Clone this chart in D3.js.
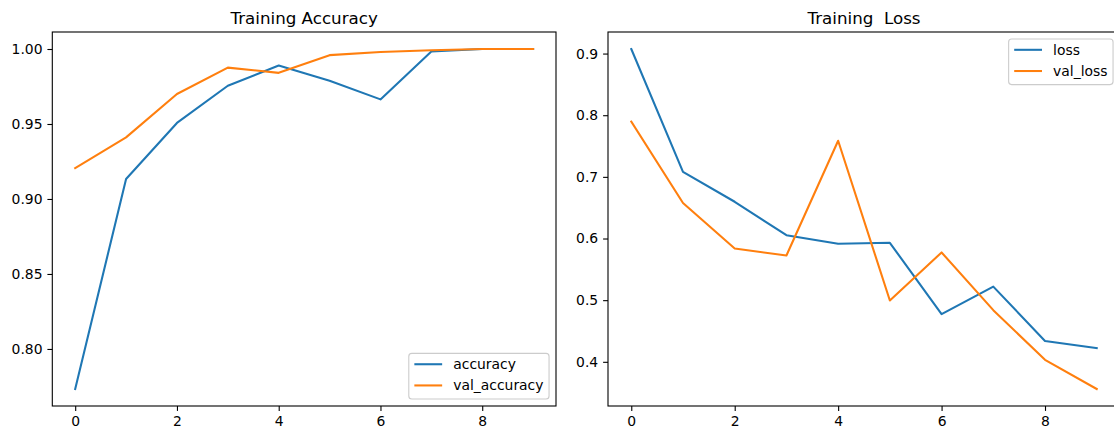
<!DOCTYPE html>
<html>
<head>
<meta charset="utf-8">
<script src="https://cdn.jsdelivr.net/npm/d3@7"></script>
<style>
  html, body { margin: 0; padding: 0; background: #fff; }
  text { font-family: "DejaVu Sans", sans-serif; fill: #000; }
</style>
</head>
<body>
<svg id="chart" width="1114" height="431"></svg>
<script>
// ---- data ----
const epochs = [0, 1, 2, 3, 4, 5, 6, 7, 8, 9];
const accuracy     = [0.7733, 0.9133, 0.9507, 0.9755, 0.9890, 0.9788, 0.9664, 0.9983, 1.0000, 1.0000];
const valAccuracy  = [0.9206, 0.9411, 0.9700, 0.9876, 0.9841, 0.9959, 0.9980, 0.9992, 1.0000, 1.0000];
const loss         = [0.9074, 0.7081, 0.6596, 0.6053, 0.5914, 0.5930, 0.4774, 0.5220, 0.4339, 0.4221];
const valLoss      = [0.7897, 0.6575, 0.5838, 0.5725, 0.7585, 0.4995, 0.5774, 0.4838, 0.4032, 0.3559];
const xTicks = [0, 2, 4, 6, 8];
const accTicks  = [0.80, 0.85, 0.90, 0.95, 1.00];
const lossTicks = [0.4, 0.5, 0.6, 0.7, 0.8, 0.9];
const titles = ["Training Accuracy", "Training  Loss"];
const accLabels = ["accuracy", "val_accuracy"];
const lossLabels = ["loss", "val_loss"];

const C1 = "#1f77b4", C2 = "#ff7f0e";
const svg = d3.select("#chart");
const FS = 13.9, TICK = 4.9;

function panel(opt) {
  const {x0, x1, y0, y1, series, labels, yTicks, yFmt, title, legendPos} = opt;
  const g = svg.append("g");
  const xs = d3.scaleLinear().domain([-0.45, 9.45]).range([x0, x1]);
  const all = series.flat();
  const mn = d3.min(all), mx = d3.max(all), m = (mx - mn) * 0.05;
  const ys = d3.scaleLinear().domain([mn - m, mx + m]).range([y1, y0]);

  // lines
  const line = d3.line().x((d, i) => xs(epochs[i])).y(d => ys(d));
  series.forEach((s, k) => {
    g.append("path").datum(s).attr("d", line)
      .attr("fill", "none").attr("stroke", k === 0 ? C1 : C2)
      .attr("stroke-width", 2.08).attr("stroke-linejoin", "round").attr("stroke-linecap", "square");
  });

  // spines
  g.append("rect").attr("x", x0).attr("y", y0).attr("width", x1 - x0).attr("height", y1 - y0)
    .attr("fill", "none").attr("stroke", "#000").attr("stroke-width", 1.1);

  // x axis
  const xa = g.append("g").attr("transform", `translate(0,${y1})`)
    .call(d3.axisBottom(xs).tickValues(xTicks).tickFormat(d3.format("d")).tickSize(TICK).tickPadding(4.9));
  xa.select(".domain").remove();
  xa.selectAll("line").attr("stroke", "#000").attr("stroke-width", 1.1);
  xa.selectAll("text").attr("font-size", FS).attr("font-family", "DejaVu Sans").attr("fill", "#000");

  // y axis
  const ya = g.append("g").attr("transform", `translate(${x0},0)`)
    .call(d3.axisLeft(ys).tickValues(yTicks).tickFormat(d3.format(yFmt)).tickSize(TICK).tickPadding(4.9));
  ya.select(".domain").remove();
  ya.selectAll("line").attr("stroke", "#000").attr("stroke-width", 1.1);
  ya.selectAll("text").attr("font-size", FS).attr("font-family", "DejaVu Sans").attr("fill", "#000");

  // title
  g.append("text").attr("x", (x0 + x1) / 2).attr("y", y0 - 8.3)
    .attr("text-anchor", "middle").attr("font-size", 16.7)
    .style("white-space", "pre").text(title);

  // legend
  const pad = 0.4 * FS, hl = 2 * FS, htp = 0.8 * FS, rowH = 21.2, bap = 0.5 * FS;
  const lg = g.append("g");
  const box = lg.append("rect");
  const texts = labels.map((t, k) => lg.append("text").attr("font-size", FS).text(t));
  const tw = d3.max(texts, t => t.node().getComputedTextLength());
  const w = pad + hl + htp + tw + pad;
  const h = 2 * pad + 2 * 13.8 + 0.5 * FS;
  const lx = x1 - bap - w;
  const ly = legendPos === "lower right" ? y1 - bap - h : y0 + bap;
  box.attr("x", lx).attr("y", ly).attr("width", w).attr("height", h)
    .attr("rx", 3).attr("ry", 3)
    .attr("fill", "#fff").attr("fill-opacity", 0.8)
    .attr("stroke", "#cccccc").attr("stroke-width", 1.1);
  labels.forEach((t, k) => {
    const cy = ly + pad + 5.3 + k * rowH;
    lg.append("line").attr("x1", lx + pad).attr("x2", lx + pad + hl)
      .attr("y1", cy).attr("y2", cy)
      .attr("stroke", k === 0 ? C1 : C2).attr("stroke-width", 2.08);
    texts[k].attr("x", lx + pad + hl + htp).attr("y", cy).attr("dy", "0.36em");
  });
}

panel({x0: 52.3, x1: 556, y0: 32, y1: 406, series: [accuracy, valAccuracy], labels: accLabels,
       yTicks: accTicks, yFmt: ".2f", title: titles[0], legendPos: "lower right"});
panel({x0: 608, x1: 1120, y0: 32, y1: 406, series: [loss, valLoss], labels: lossLabels,
       yTicks: lossTicks, yFmt: ".1f", title: titles[1], legendPos: "upper right"});
</script>
</body>
</html>
